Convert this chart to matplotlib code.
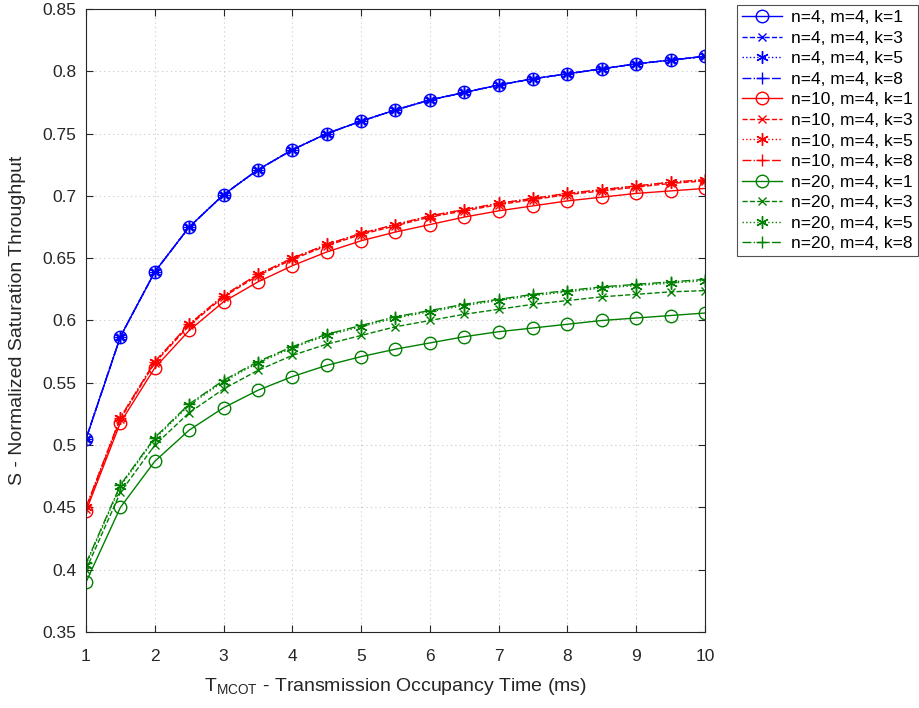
import matplotlib
matplotlib.use("Agg")
import matplotlib.pyplot as plt

plt.rcParams['font.family'] = ['Liberation Sans', 'DejaVu Sans']
plt.rcParams['mathtext.default'] = 'regular'

t_mcot = [1, 1.5, 2, 2.5, 3, 3.5, 4, 4.5, 5, 5.5, 6, 6.5, 7, 7.5, 8, 8.5, 9, 9.5, 10]

# n=4 (all k coincide)
s_n4_k1 = [0.505, 0.587, 0.639, 0.675, 0.701, 0.721, 0.737, 0.750, 0.760, 0.769, 0.777, 0.783, 0.789, 0.794, 0.798, 0.802, 0.806, 0.809, 0.812]
s_n4_k3 = [0.505, 0.587, 0.639, 0.675, 0.701, 0.721, 0.737, 0.750, 0.760, 0.769, 0.777, 0.783, 0.789, 0.794, 0.798, 0.802, 0.806, 0.809, 0.812]
s_n4_k5 = [0.505, 0.587, 0.639, 0.675, 0.701, 0.721, 0.737, 0.750, 0.760, 0.769, 0.777, 0.783, 0.789, 0.794, 0.798, 0.802, 0.806, 0.809, 0.812]
s_n4_k8 = [0.505, 0.587, 0.639, 0.675, 0.701, 0.721, 0.737, 0.750, 0.760, 0.769, 0.777, 0.783, 0.789, 0.794, 0.798, 0.802, 0.806, 0.809, 0.812]

# n=10
s_n10_k1 = [0.447, 0.518, 0.562, 0.592, 0.615, 0.631, 0.644, 0.655, 0.664, 0.671, 0.677, 0.683, 0.688, 0.692, 0.696, 0.699, 0.702, 0.704, 0.706]
s_n10_k3 = [0.449, 0.521, 0.566, 0.596, 0.619, 0.636, 0.649, 0.660, 0.669, 0.676, 0.683, 0.688, 0.693, 0.697, 0.701, 0.704, 0.707, 0.710, 0.712]
s_n10_k5 = [0.450, 0.522, 0.567, 0.597, 0.620, 0.637, 0.650, 0.661, 0.670, 0.677, 0.684, 0.689, 0.694, 0.698, 0.702, 0.705, 0.708, 0.711, 0.713]
s_n10_k8 = [0.450, 0.522, 0.567, 0.597, 0.620, 0.637, 0.650, 0.661, 0.670, 0.677, 0.684, 0.689, 0.694, 0.698, 0.702, 0.705, 0.708, 0.711, 0.713]

# n=20
s_n20_k1 = [0.390, 0.450, 0.487, 0.512, 0.530, 0.544, 0.555, 0.564, 0.571, 0.577, 0.582, 0.587, 0.591, 0.594, 0.597, 0.600, 0.602, 0.604, 0.606]
s_n20_k3 = [0.400, 0.462, 0.500, 0.526, 0.545, 0.560, 0.572, 0.581, 0.588, 0.595, 0.600, 0.605, 0.609, 0.613, 0.616, 0.619, 0.621, 0.623, 0.624]
s_n20_k5 = [0.404, 0.467, 0.505, 0.532, 0.551, 0.566, 0.578, 0.588, 0.595, 0.602, 0.607, 0.612, 0.616, 0.620, 0.623, 0.626, 0.628, 0.630, 0.632]
s_n20_k8 = [0.405, 0.468, 0.506, 0.533, 0.552, 0.567, 0.579, 0.589, 0.596, 0.603, 0.608, 0.613, 0.617, 0.621, 0.624, 0.627, 0.629, 0.631, 0.633]

y_ticks = [0.35, 0.4, 0.45, 0.5, 0.55, 0.6, 0.65, 0.7, 0.75, 0.8, 0.85]
y_tick_labels = ["0.35", "0.4", "0.45", "0.5", "0.55", "0.6", "0.65", "0.7", "0.75", "0.8", "0.85"]
x_ticks = [1, 2, 3, 4, 5, 6, 7, 8, 9, 10]

asterisk = (6, 2, 0)

series = [
	(s_n4_k1, "n=4, m=4, k=1", "b", "-", "o"),
	(s_n4_k3, "n=4, m=4, k=3", "b", "--", "x"),
	(s_n4_k5, "n=4, m=4, k=5", "b", ":", asterisk),
	(s_n4_k8, "n=4, m=4, k=8", "b", "-.", "+"),
	(s_n10_k1, "n=10, m=4, k=1", "r", "-", "o"),
	(s_n10_k3, "n=10, m=4, k=3", "r", "--", "x"),
	(s_n10_k5, "n=10, m=4, k=5", "r", ":", asterisk),
	(s_n10_k8, "n=10, m=4, k=8", "r", "-.", "+"),
	(s_n20_k1, "n=20, m=4, k=1", "#008000", "-", "o"),
	(s_n20_k3, "n=20, m=4, k=3", "#008000", "--", "x"),
	(s_n20_k5, "n=20, m=4, k=5", "#008000", ":", asterisk),
	(s_n20_k8, "n=20, m=4, k=8", "#008000", "-.", "+"),
]

marker_sizes = {"o": 9, "x": 6, "+": 9}

fig = plt.figure(figsize=(9.2, 7.08), dpi=100)
ax = fig.add_axes([86 / 920, 76 / 708, 619 / 920, 623 / 708])

for vals, label, color, ls, mk in series:
	ms = marker_sizes.get(mk, 9) if isinstance(mk, str) else 9
	ax.plot(t_mcot, vals, color=color, linestyle=ls, marker=mk, markersize=ms,
			markerfacecolor="none", markeredgewidth=1.0, linewidth=1.0, label=label)
#end_for

ax.set_xlim(1, 10)
ax.set_ylim(0.35, 0.85)
ax.set_xticks(x_ticks)
ax.set_yticks(y_ticks)
ax.set_yticklabels(y_tick_labels)
ax.tick_params(direction="in", labelsize=12.5, colors="#262626", top=True, right=True, length=5)
ax.tick_params(axis="y", pad=7)
ax.tick_params(axis="x", pad=12)
ax.grid(True, linestyle=(0, (1, 3)), color="#c8c8c8", linewidth=0.8)
for sp in ax.spines.values():
	sp.set_color("#262626")
	sp.set_linewidth(0.8)
#end_for

ax.set_xlabel("T$_{MCOT}$ - Transmission Occupancy Time (ms)", fontsize=14, color="#262626", labelpad=9)
ax.set_ylabel("S - Normalized Saturation Throughput", fontsize=14, color="#262626", labelpad=12)

leg = fig.legend(loc="upper left", bbox_to_anchor=(737 / 920, 1 - 5 / 708), fontsize=12.5,
				 frameon=True, fancybox=False, edgecolor="#262626", labelspacing=0.31,
				 handlelength=2.3, borderpad=0.3, handletextpad=0.5, borderaxespad=0.0)
leg.get_frame().set_linewidth(0.8)

fig.savefig("out.png", dpi=100)
